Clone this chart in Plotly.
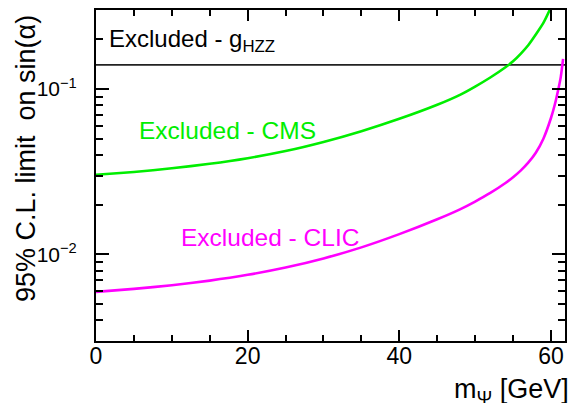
import plotly.graph_objects as go

# ---- data ----
cms_mass = [0, 5, 10, 15, 20, 25, 30, 35, 40, 45, 48, 50, 52, 54, 55, 56, 57, 58, 59, 59.8, 60.4]
cms_limit = [0.03034, 0.03155, 0.03319, 0.03532, 0.03819, 0.04217, 0.04786, 0.05559, 0.06607,
             0.08035, 0.09226, 0.10351, 0.11749, 0.13552, 0.14723, 0.16331, 0.18408, 0.21380,
             0.25119, 0.29854, 0.34674]

clic_mass = [0, 5, 10, 15, 20, 25, 30, 35, 40, 45, 48, 50, 52, 54, 55, 56, 57, 58, 59, 60,
             60.5, 61, 61.3, 61.6]
clic_limit = [0.005943, 0.006194, 0.006516, 0.006950, 0.007534, 0.008337, 0.009462, 0.011041,
              0.013274, 0.016331, 0.018750, 0.020893, 0.023550, 0.027040, 0.029309, 0.032137,
              0.035892, 0.041210, 0.050119, 0.066834, 0.080353, 0.101158, 0.118850, 0.152055]

ghzz_mass = [0, 61.85]
ghzz_limit = [0.14, 0.14]

x_ticks = [0, 20, 40, 60]
y_ticks = [0.01, 0.1]
y_ticktext = ["10<sup>\u22122</sup>", "10<sup>\u22121</sup>"]
y_minor = [0.003, 0.004, 0.005, 0.006, 0.007, 0.008, 0.009,
           0.02, 0.03, 0.04, 0.05, 0.06, 0.07, 0.08, 0.09, 0.2, 0.3]

FONT = "Liberation Sans"

fig = go.Figure()
fig.add_trace(go.Scatter(x=ghzz_mass, y=ghzz_limit, mode="lines",
                         line=dict(color="#222222", width=1.8), showlegend=False))
fig.add_trace(go.Scatter(x=cms_mass, y=cms_limit, mode="lines", line_shape="spline",
                         line=dict(color="#00ee00", width=2.6, smoothing=0.6), showlegend=False))
fig.add_trace(go.Scatter(x=clic_mass, y=clic_limit, mode="lines", line_shape="spline",
                         line=dict(color="#ff00ff", width=2.6, smoothing=0.6), showlegend=False))

fig.update_layout(
    width=569, height=403,
    margin=dict(l=96, r=2, t=10, b=62),
    paper_bgcolor="white", plot_bgcolor="white",
    font=dict(family=FONT, size=23, color="black"),
    xaxis=dict(range=[0, 61.85], tickvals=x_ticks, ticks="inside", ticklen=11, tickwidth=1.5,
               tickcolor="black", showline=True, linecolor="black", linewidth=2,
               mirror="allticks", showgrid=False, zeroline=False,
               tickfont=dict(size=23), ticklabelstandoff=-7,
               minor=dict(dtick=5, tick0=0, ticks="inside", ticklen=6, tickwidth=1.5,
                          tickcolor="black", showgrid=False)),
    yaxis=dict(type="log", range=[-2.523, -0.522], tickvals=y_ticks, ticktext=y_ticktext,
               ticks="inside", ticklen=13, tickwidth=1.5, tickcolor="black",
               showline=True, linecolor="black", linewidth=2, mirror="allticks",
               showgrid=False, zeroline=False, tickfont=dict(size=21), ticklabelstandoff=13,
               minor=dict(tickvals=y_minor, ticks="inside", ticklen=7, tickwidth=1.5,
                          tickcolor="black", showgrid=False)),
)

# text labels
fig.add_annotation(x=1.44, y=-0.709, xref="x", yref="y", text="Excluded - g<sub>HZZ</sub>",
                   showarrow=False, xanchor="left", yanchor="middle",
                   font=dict(family=FONT, size=24, color="black"))
fig.add_annotation(x=5.4, y=-1.248, xref="x", yref="y", text="Excluded - CMS",
                   showarrow=False, xanchor="left", yanchor="middle",
                   font=dict(family=FONT, size=24.5, color="#00ee00"))
fig.add_annotation(x=10.9, y=-1.897, xref="x", yref="y", text="Excluded - CLIC",
                   showarrow=False, xanchor="left", yanchor="middle",
                   font=dict(family=FONT, size=24.5, color="#ff00ff"))

# axis titles
fig.add_annotation(x=1.012, y=-0.152, xref="paper", yref="paper",
                   text="m<sub>\u03a8</sub> [GeV]", showarrow=False,
                   xanchor="right", yanchor="middle", font=dict(family=FONT, size=27))
fig.add_annotation(x=-0.148, y=0.991, xref="paper", yref="paper",
                   text="95% C.L. limit  on sin(\u03b1)", showarrow=False, textangle=-90,
                   xanchor="center", yanchor="top", font=dict(family=FONT, size=27))

fig.write_html("out.html", config={"displayModeBar": False},
               post_script="document.body.style.margin='0';document.body.style.overflow='hidden';")
